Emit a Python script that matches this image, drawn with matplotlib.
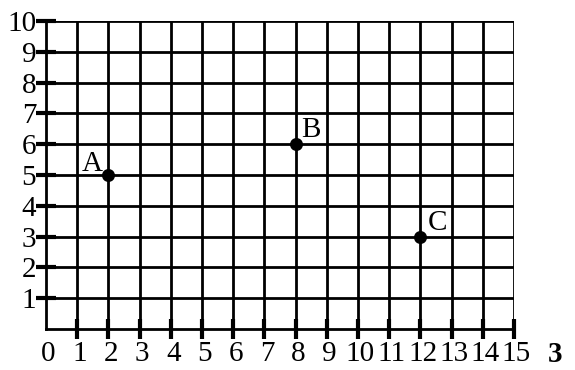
import matplotlib
matplotlib.use("Agg")
import matplotlib.pyplot as plt

x_ticks = list(range(0, 16))
y_ticks = list(range(0, 11))
point_names = ["A", "B", "C"]
point_x = [2, 8, 12]
point_y = [5, 6, 3]

plt.rcParams['font.family'] = ['Liberation Serif', 'DejaVu Serif']

fig = plt.figure(figsize=(5.75, 3.7), dpi=100)
ax = fig.add_axes([46/575, 1 - 329/370, (514-46)/575, (329-21)/370])
ax.set_xlim(0, 15)
ax.set_ylim(0, 10)

for xv in x_ticks[1:]:
    ax.axvline(xv, color='black', lw=2, zorder=1)
for yv in y_ticks[1:]:
    ax.axhline(yv, color='black', lw=2, zorder=1)

for s in ['top', 'right']:
    ax.spines[s].set_visible(False)
for s in ['left', 'bottom']:
    ax.spines[s].set_linewidth(2)

ax.set_xticks(x_ticks[1:])
ax.set_yticks(y_ticks[1:])
ax.set_xticklabels([])
ax.set_yticklabels([str(v) for v in y_ticks[1:]], fontsize=21)
ax.tick_params(axis='x', direction='inout', length=14, width=3, pad=0)
ax.tick_params(axis='y', direction='inout', length=14, width=3, pad=0)

for xv in x_ticks:
    ax.text(xv + 0.08, -0.8, str(xv), ha='center', va='center', fontsize=21,
            clip_on=False)

ax.scatter(point_x, point_y, s=70, color='black', zorder=3, clip_on=False)
offsets = {"A": (-4, 8, 'right'), "B": (4, 10, 'left'), "C": (5, 10, 'left')}
for n, px, py in zip(point_names, point_x, point_y):
    dx, dy, ha = offsets[n]
    ax.annotate(n, (px, py), xytext=(dx, dy), textcoords='offset points',
                fontsize=21, ha=ha, va='center', zorder=4)

fig.text(555/575, 1 - 368/370, "3", fontsize=21, fontweight='bold',
         ha='center', va='bottom')

fig.savefig("out.png", dpi=100, facecolor='white')
